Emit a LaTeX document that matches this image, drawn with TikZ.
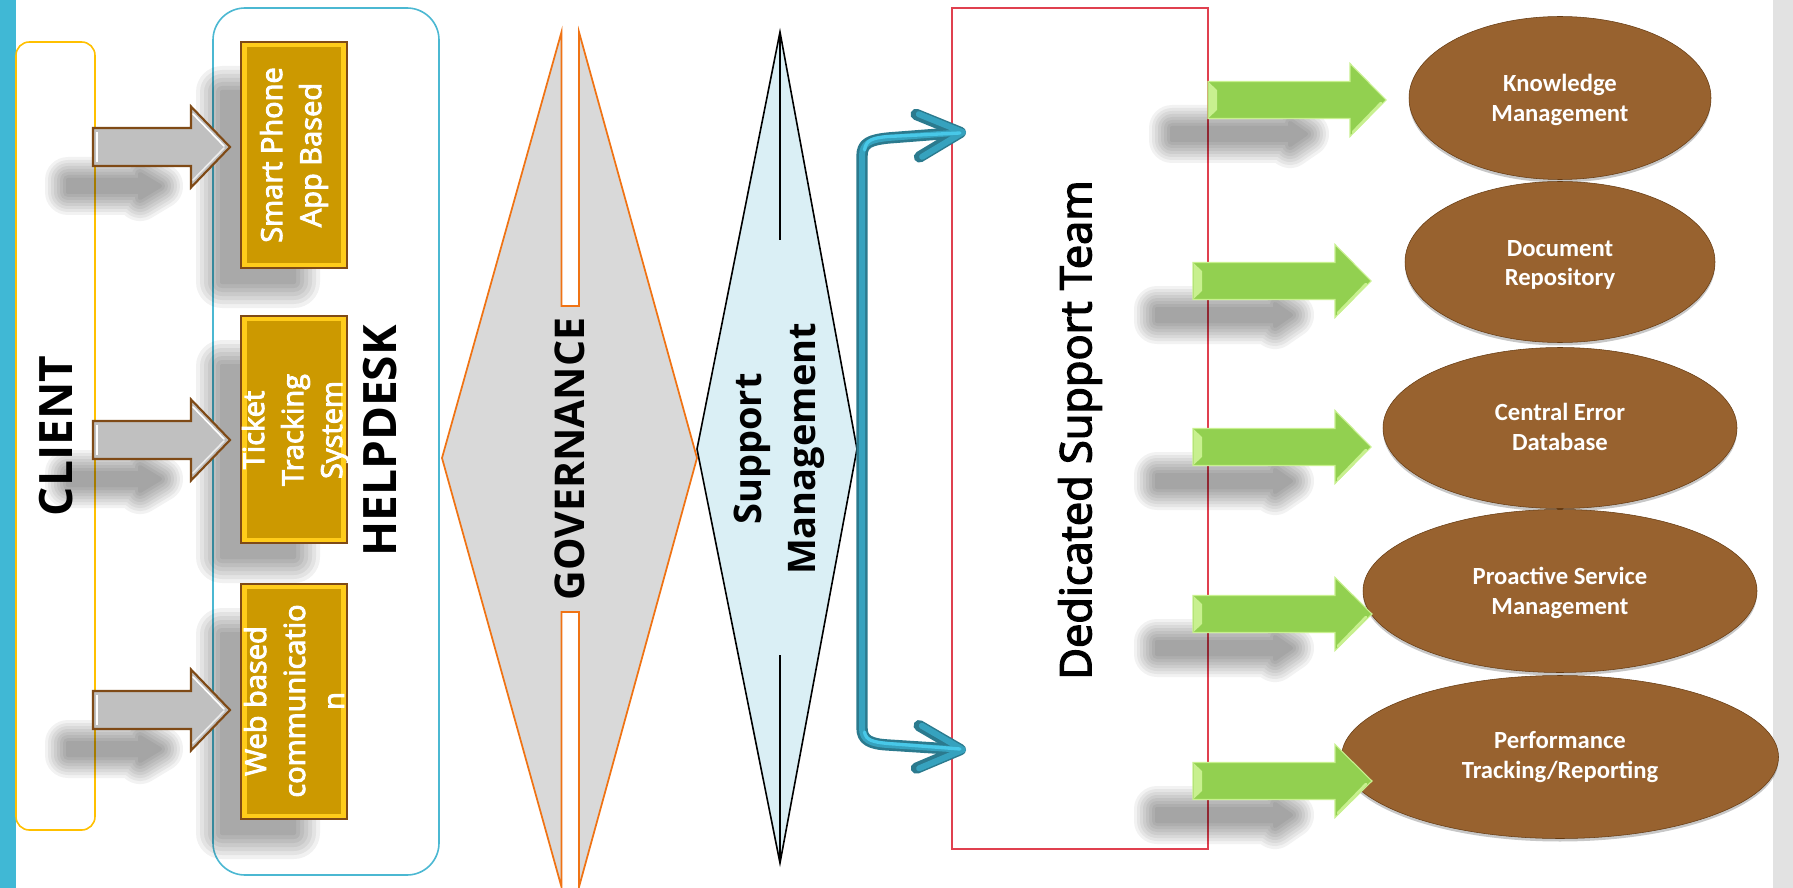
\documentclass[tikz,border=0pt]{standalone}
\usepackage{fontspec}
\newfontfamily\osans{Open Sans}
\newfontfamily\osemi{Open Sans}[FakeBold=3.2]
\newfontfamily\calib{Carlito}
\usetikzlibrary{shapes.geometric,arrows.meta}
\definecolor{stripblue}{HTML}{40B8D5}
\definecolor{stripgray}{HTML}{E2E2E2}
\definecolor{clientc}{HTML}{FFC000}
\definecolor{helpc}{HTML}{4BB8D2}
\definecolor{goldfill}{HTML}{CC9900}
\definecolor{goldedge}{HTML}{FFCC1A}
\definecolor{brownline}{HTML}{7F4A16}
\definecolor{grayarr}{HTML}{C0C0C0}
\definecolor{govfill}{HTML}{D9D9D9}
\definecolor{govline}{HTML}{F07314}
\definecolor{smfill}{HTML}{DAEFF5}
\definecolor{dstline}{HTML}{E0404F}
\definecolor{greenc}{HTML}{92D050}
\definecolor{greenlight}{HTML}{C8F08F}
\definecolor{brownell}{HTML}{98622F}
\definecolor{blued}{HTML}{2B7A8E}
\definecolor{bluem}{HTML}{36A2BE}
\definecolor{bluel}{HTML}{48C8E8}
% block arrow: style, x0, xhead, xtip, yc, half shaft, half head
\newcommand\mkarrow[7]{%
  \path[#1] (#2,#5-#6) -- (#3,#5-#6) -- (#3,#5-#7) -- (#4,#5) -- (#3,#5+#7) -- (#3,#5+#6) -- (#2,#5+#6) -- cycle;}
% soft shadow of a block arrow: x0, xhead, xtip, yc, half shaft, half head
\newcommand\softarrow[6]{%
  \foreach \w in {46,40,34,28,22,16,10,4}{%
    \begin{scope}[transparency group, opacity=0.05]
      \path[fill=black, draw=black, line width=\w*0.75pt, line join=round]
        (#1,#4-#5) -- (#2,#4-#5) -- (#2,#4-#6) -- (#3,#4) -- (#2,#4+#6) -- (#2,#4+#5) -- (#1,#4+#5) -- cycle;
    \end{scope}}}
% soft shadow of a rectangle: x1, y1, x2, y2
\newcommand\softrect[4]{%
  \foreach \w in {52,44,36,28,20,12,4}{%
    \begin{scope}[transparency group, opacity=0.055]
      \path[fill=black, draw=black, line width=\w*0.75pt, line join=round] (#1,#2) rectangle (#3,#4);
    \end{scope}}}
\begin{document}
\begin{tikzpicture}[x=0.75pt,y=-0.75pt,
  clientbox/.style={draw=clientc, line width=1.2pt, rounded corners=10pt, inner sep=0},
  helpbox/.style={draw=helpc, line width=1.2pt, rounded corners=24pt, inner sep=0},
  goldbox/.style={draw=brownline, line width=1.6pt, fill=goldedge, inner sep=0},
  headtxt/.style={font=\osans\bfseries\fontsize{34.5pt}{41pt}\selectfont, rotate=90, inner sep=0, text=black},
  goldtxt/.style={font=\osemi\fontsize{21.75pt}{29.25pt}\selectfont, rotate=90, inner sep=0, text=white, align=center},
  grayblock/.style={fill=grayarr, draw=brownline, line width=1.6pt, line join=miter},
  greenblock/.style={fill=greenc, draw=greenlight, line width=0.8pt},
  ell/.style={ellipse, fill=brownell, draw=brownline!80!black, line width=0.4pt, inner sep=0},
  ellshadow/.style={fill=black, opacity=0.22},
  elltxt/.style={font=\calib\bfseries\fontsize{18.5pt}{22pt}\selectfont, text=white, align=center, inner sep=0},
  bluecon/.style={line width=#1, line cap=round, line join=round, {Straight Barb[length=32pt,width=32pt,round]}-{Straight Barb[length=32pt,width=32pt,round]}}
]
\useasboundingbox (0,0) rectangle (1793,888);
\fill[white] (0,0) rectangle (1793,888);
\fill[stripblue] (0,0) rectangle (16,888);
\fill[stripgray] (1773,0) rectangle (1793,888);

% CLIENT
\node[clientbox, minimum width=79*0.75pt, minimum height=788*0.75pt] (client) at (55.5,436) {};
\node[headtxt] (clientT) at (56,436) {CLIENT};

% HELPDESK
\node[helpbox, minimum width=226*0.75pt, minimum height=867*0.75pt] (help) at (326,441.5) {};
\node[headtxt] (helpT) at (380,441) {HELPDESK};

% shadows of gold boxes
\softrect{222}{92}{294}{282}
\softrect{222}{366}{294}{557}
\softrect{222}{634}{294}{833}

% gold boxes
\node[goldbox, minimum width=106*0.75pt, minimum height=226*0.75pt] (g1) at (294,155) {};
\node[goldbox, minimum width=106*0.75pt, minimum height=227*0.75pt] (g2) at (294,429.5) {};
\node[goldbox, minimum width=106*0.75pt, minimum height=235*0.75pt] (g3) at (294,701.5) {};
\foreach \g in {g1,g2,g3}{
  \fill[goldfill] ([shift={(7,6)}]\g.north west) rectangle ([shift={(-7,-6)}]\g.south east);
}
\node[goldtxt] (g1T) at (294,155) {Smart Phone\\App Based};
\node[goldtxt] (g2T) at (295.5,430) {Ticket\\Tracking\\System};
\node[goldtxt] (g3T) at (294,701) {Web based\\communicatio\\n};

% gray block arrows client -> helpdesk items
\softarrow{68}{140}{160}{186}{6}{12}
\softarrow{68}{140}{160}{479}{6}{12}
\softarrow{68}{140}{160}{749}{6}{12}
\mkarrow{grayblock}{93}{191}{230}{147}{19}{40.5}
\mkarrow{grayblock}{93}{191}{230}{440}{19}{40.5}
\mkarrow{grayblock}{93}{191}{230}{710}{19}{40.5}
\foreach \yc in {147,440,710}{
  \draw[white, line width=1.2pt, line cap=round] (193,\yc-33) -- (224,\yc-1);
  \draw[white!85!gray, line width=1.2pt, line cap=round] (193,\yc+33) -- (224,\yc+1);
  \draw[white, line width=1.2pt] (97,\yc-15) -- (97,\yc+15);
}

% GOVERNANCE
\path[fill=govfill, draw=govline, line width=1.3pt, line join=miter]
  (561.5,32) -- (442,458) -- (561.5,887) -- (561.5,612) -- (579,612) -- (579,887)
  -- (697,458) -- (579,32) -- (579,306) -- (561.5,306) -- cycle;
\node[headtxt, font=\osans\bfseries\fontsize{30.75pt}{37pt}\selectfont] (govT) at (570,459) {GOVERNANCE};

% Support Management
\path[fill=smfill, draw=black, line width=1.2pt, line join=miter]
  (780,32) -- (857,449) -- (780,863) -- (697,449) -- cycle;
\draw[line width=1.6pt] (780,32) -- (780,240);
\draw[line width=1.6pt] (780,655) -- (780,863);
\node[headtxt, align=center, font=\osans\bfseries\fontsize{28.5pt}{40.5pt}\selectfont] (smT) at (779,449) {Support\\Management};

% Dedicated Support Team
\node[draw=dstline, line width=1.2pt, minimum width=256*0.75pt, minimum height=841*0.75pt, inner sep=0] (dst) at (1080,428.5) {};
\node[headtxt, font=\osemi\fontsize{32.5pt}{38pt}\selectfont] (dstT) at (1080,430) {Dedicated Support Team};

% blue connector support management -> dedicated team
\coordinate (bt) at (966,132);
\coordinate (bb) at (966,750);
\draw[bluecon=8.5pt, blued] (bt) -- (888,138) .. controls (870,140) and (862,143) .. (862,156) -- (862,728) .. controls (862,740) and (870,744) .. (888,745) -- (bb);
\draw[bluecon=4.5pt, bluem] (bt) -- (888,138) .. controls (870,140) and (862,143) .. (862,156) -- (862,728) .. controls (862,740) and (870,744) .. (888,745) -- (bb);
\draw[line width=2.5pt, line cap=round, color=bluel] (960,133) -- (888,136.5) .. controls (872,138) and (866,140) .. (864.5,150);
\draw[line width=2.5pt, line cap=round, color=bluel] (960,749) -- (888,743.5) .. controls (872,742) and (866,740) .. (864.5,732);

% ellipses
\fill[ellshadow] (1560,101) ellipse [x radius=151*0.75pt, y radius=81.5*0.75pt];
\fill[ellshadow] (1560,265) ellipse [x radius=155*0.75pt, y radius=80.5*0.75pt];
\fill[ellshadow] (1560,431) ellipse [x radius=177*0.75pt, y radius=80.5*0.75pt];
\fill[ellshadow] (1560,594) ellipse [x radius=197*0.75pt, y radius=81.5*0.75pt];
\fill[ellshadow] (1560,760) ellipse [x radius=218.5*0.75pt, y radius=81.5*0.75pt];
\node[ell, minimum width=302*0.75pt, minimum height=163*0.75pt] (e1) at (1560,98) {};
\node[ell, minimum width=310*0.75pt, minimum height=161*0.75pt] (e2) at (1560,262) {};
\node[ell, minimum width=354*0.75pt, minimum height=161*0.75pt] (e3) at (1560,428) {};
\node[ell, minimum width=394*0.75pt, minimum height=163*0.75pt] (e4) at (1560,591) {};
\node[ell, minimum width=437*0.75pt, minimum height=163*0.75pt] (e5) at (1560,757) {};
\node[elltxt] (e1T) at (1560,100) {Knowledge\\Management};
\node[elltxt] (e2T) at (1560,265) {Document\\Repository};
\node[elltxt] (e3T) at (1560,427) {Central Error\\Database};
\node[elltxt] (e4T) at (1560,593) {Proactive Service\\Management};
\node[elltxt] (e5T) at (1560,757) {Performance\\Tracking/Reporting};

% green block arrows dst -> ellipses
\softarrow{1172}{1290}{1306}{134}{6}{11}
\softarrow{1157}{1275}{1291}{315}{6}{11}
\softarrow{1157}{1275}{1291}{481}{6}{11}
\softarrow{1157}{1275}{1291}{648}{6}{11}
\softarrow{1157}{1275}{1291}{815}{6}{11}
\mkarrow{greenblock}{1208}{1350}{1386}{100}{18.5}{36.5}
\mkarrow{greenblock}{1193}{1335}{1371}{281}{18.5}{36.5}
\mkarrow{greenblock}{1193}{1335}{1371}{447}{18.5}{36.5}
\mkarrow{greenblock}{1193}{1335}{1372}{614}{18.5}{36.5}
\mkarrow{greenblock}{1193}{1335}{1372}{781}{18.5}{36.5}
\foreach \xa/\yc in {1208/100,1193/281,1193/447,1193/614,1193/781}{
  \fill[greenlight] (\xa+1,\yc-17.5) -- (\xa+9,\yc-10) -- (\xa+9,\yc+10) -- (\xa+1,\yc+17.5) -- cycle;
  \draw[greenlight, line width=2pt, line cap=round] (\xa+145,\yc+32) -- (\xa+173,\yc+3);
}
\end{tikzpicture}
\end{document}
